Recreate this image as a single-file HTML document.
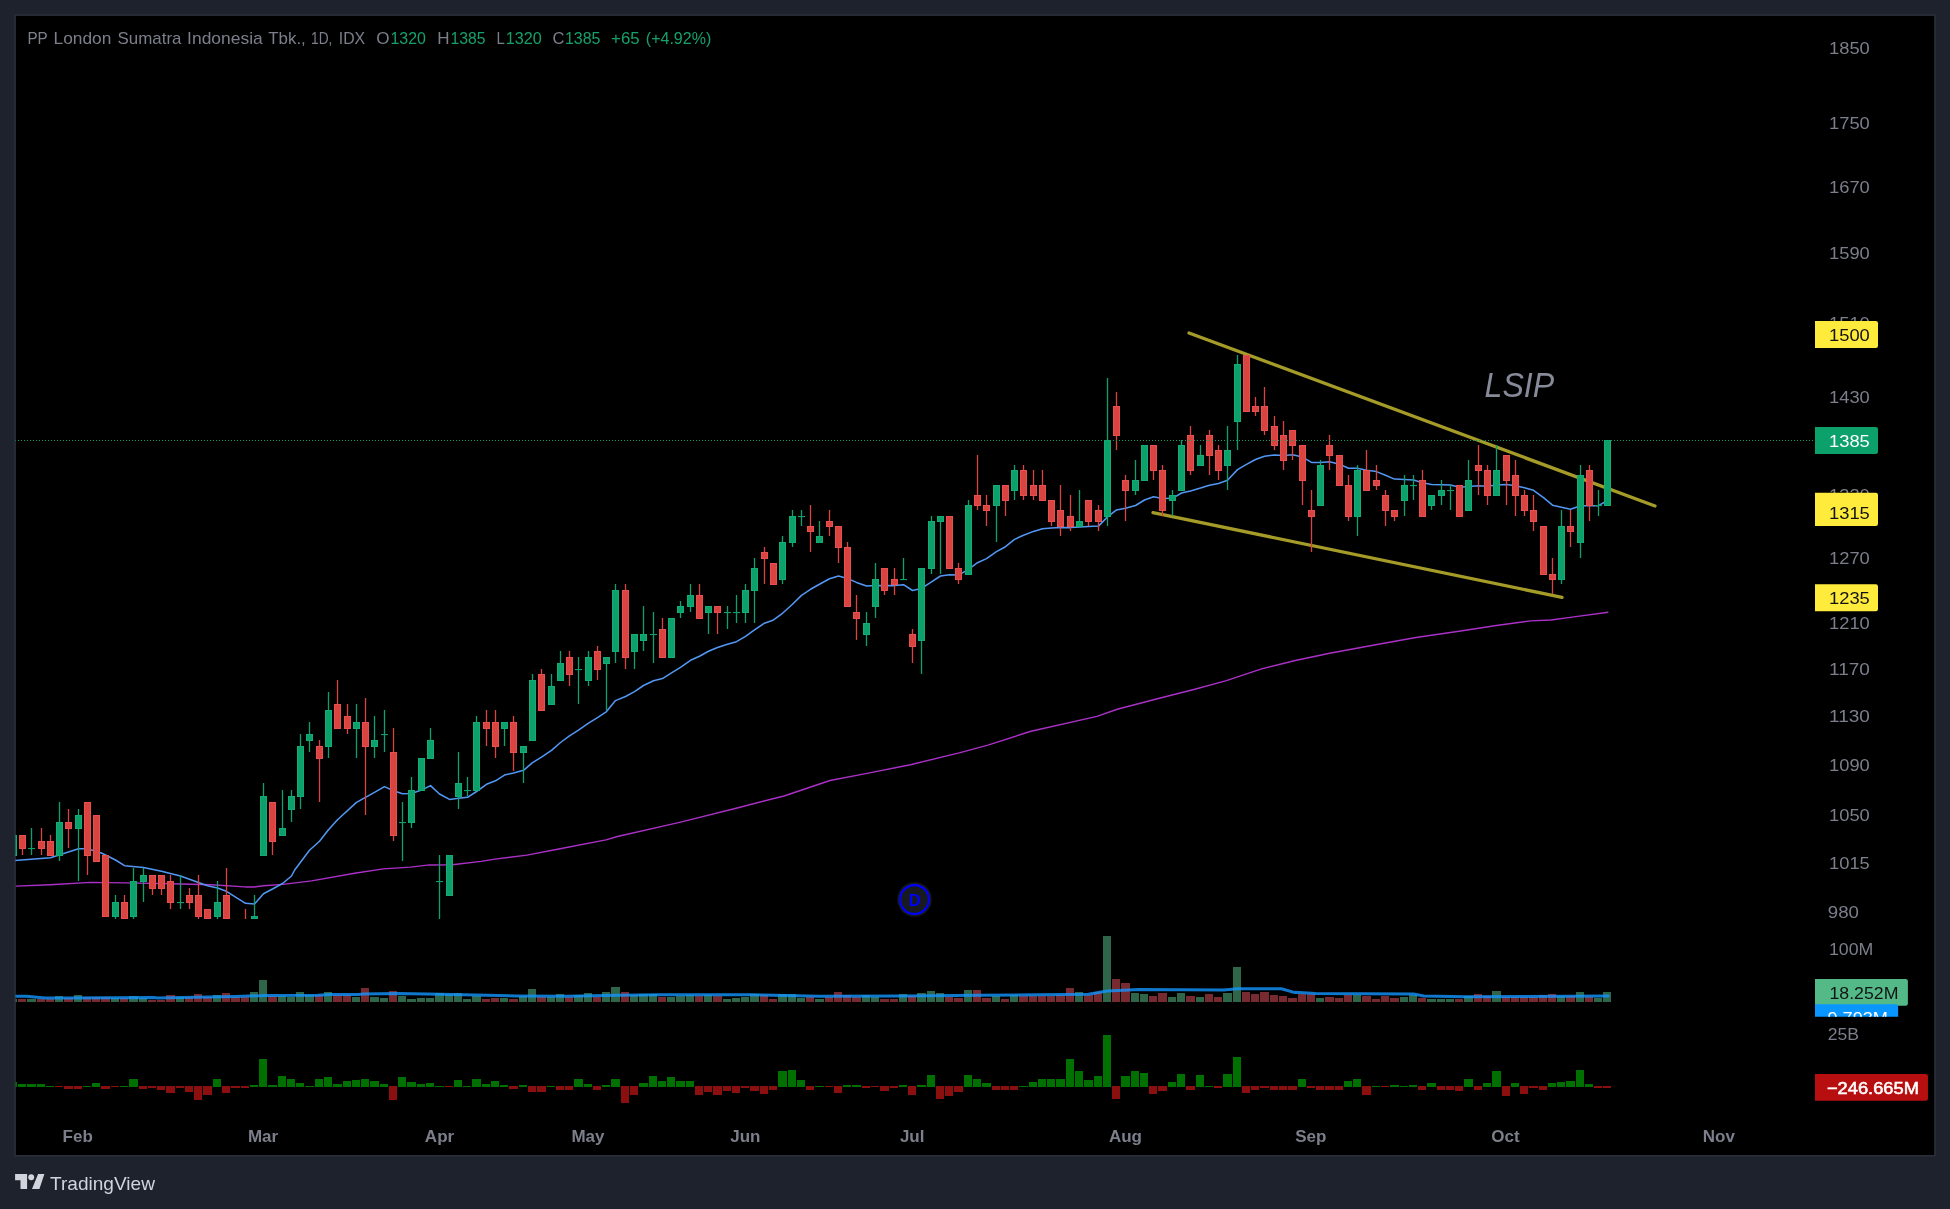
<!DOCTYPE html>
<html><head><meta charset="utf-8"><title>LSIP chart</title>
<style>html,body{margin:0;padding:0;background:#1e222d;}body{width:1950px;height:1209px;overflow:hidden;}svg{display:block;will-change:transform;}text{font-family:"Liberation Sans",sans-serif;}</style>
</head><body>
<svg width="1950" height="1209" viewBox="0 0 1950 1209">
<rect x="0" y="0" width="1950" height="1209" fill="#1e222d"/>
<rect x="15.05" y="15.05" width="1919.95" height="1140.75" fill="#000" stroke="#2a2e39" stroke-width="1.7"/>
<defs><clipPath id="pane"><rect x="15.4" y="15.4" width="1800" height="1140"/></clipPath><clipPath id="volclip"><rect x="1800" y="900" width="150" height="116.8"/></clipPath></defs>
<g clip-path="url(#pane)">
<g shape-rendering="crispEdges">
<rect x="9.0" y="999" width="8.0" height="3" fill="#2f6549"/>
<rect x="18.0" y="999" width="8.0" height="3" fill="#772a30"/>
<rect x="27.0" y="999" width="9.0" height="3" fill="#2f6549"/>
<rect x="37.0" y="999" width="8.0" height="3" fill="#772a30"/>
<rect x="46.0" y="999" width="8.0" height="3" fill="#772a30"/>
<rect x="55.0" y="996" width="8.0" height="6" fill="#2f6549"/>
<rect x="64.0" y="998" width="9.0" height="4" fill="#772a30"/>
<rect x="74.0" y="995" width="8.0" height="7" fill="#2f6549"/>
<rect x="83.0" y="997" width="8.0" height="5" fill="#772a30"/>
<rect x="92.0" y="997" width="8.0" height="5" fill="#772a30"/>
<rect x="101.0" y="997" width="9.0" height="5" fill="#772a30"/>
<rect x="111.0" y="998" width="8.0" height="4" fill="#2f6549"/>
<rect x="120.0" y="998" width="8.0" height="4" fill="#772a30"/>
<rect x="129.0" y="996" width="9.0" height="6" fill="#2f6549"/>
<rect x="139.0" y="998" width="8.0" height="4" fill="#2f6549"/>
<rect x="148.0" y="1000" width="8.0" height="2" fill="#772a30"/>
<rect x="157.0" y="1000" width="8.0" height="2" fill="#772a30"/>
<rect x="166.0" y="995" width="9.0" height="7" fill="#772a30"/>
<rect x="176.0" y="997" width="8.0" height="5" fill="#2f6549"/>
<rect x="185.0" y="997" width="8.0" height="5" fill="#772a30"/>
<rect x="194.0" y="994" width="8.0" height="8" fill="#772a30"/>
<rect x="203.0" y="997" width="9.0" height="5" fill="#772a30"/>
<rect x="213.0" y="995" width="8.0" height="7" fill="#2f6549"/>
<rect x="222.0" y="993" width="8.0" height="9" fill="#772a30"/>
<rect x="231.0" y="997" width="9.0" height="5" fill="#772a30"/>
<rect x="241.0" y="997" width="8.0" height="5" fill="#772a30"/>
<rect x="250.0" y="992" width="8.0" height="10" fill="#2f6549"/>
<rect x="259.0" y="980" width="8.0" height="22" fill="#2f6549"/>
<rect x="268.0" y="996" width="9.0" height="6" fill="#772a30"/>
<rect x="278.0" y="996" width="8.0" height="6" fill="#2f6549"/>
<rect x="287.0" y="997" width="8.0" height="5" fill="#2f6549"/>
<rect x="296.0" y="992" width="8.0" height="10" fill="#2f6549"/>
<rect x="305.0" y="995" width="9.0" height="7" fill="#2f6549"/>
<rect x="315.0" y="995" width="8.0" height="7" fill="#772a30"/>
<rect x="324.0" y="992" width="8.0" height="10" fill="#2f6549"/>
<rect x="333.0" y="995" width="9.0" height="7" fill="#772a30"/>
<rect x="343.0" y="995" width="8.0" height="7" fill="#772a30"/>
<rect x="352.0" y="997" width="8.0" height="5" fill="#2f6549"/>
<rect x="361.0" y="988" width="8.0" height="14" fill="#772a30"/>
<rect x="370.0" y="997" width="9.0" height="5" fill="#2f6549"/>
<rect x="380.0" y="998" width="8.0" height="4" fill="#2f6549"/>
<rect x="389.0" y="991" width="8.0" height="11" fill="#772a30"/>
<rect x="398.0" y="996" width="8.0" height="6" fill="#2f6549"/>
<rect x="407.0" y="999" width="9.0" height="3" fill="#2f6549"/>
<rect x="417.0" y="998" width="8.0" height="4" fill="#2f6549"/>
<rect x="426.0" y="998" width="8.0" height="4" fill="#2f6549"/>
<rect x="435.0" y="993" width="9.0" height="9" fill="#2f6549"/>
<rect x="445.0" y="994" width="8.0" height="8" fill="#2f6549"/>
<rect x="454.0" y="993" width="8.0" height="9" fill="#2f6549"/>
<rect x="463.0" y="999" width="8.0" height="3" fill="#2f6549"/>
<rect x="472.0" y="996" width="9.0" height="6" fill="#2f6549"/>
<rect x="482.0" y="999" width="8.0" height="3" fill="#772a30"/>
<rect x="491.0" y="998" width="8.0" height="4" fill="#772a30"/>
<rect x="500.0" y="998" width="8.0" height="4" fill="#2f6549"/>
<rect x="509.0" y="999" width="9.0" height="3" fill="#772a30"/>
<rect x="519.0" y="996" width="8.0" height="6" fill="#2f6549"/>
<rect x="528.0" y="989" width="8.0" height="13" fill="#2f6549"/>
<rect x="537.0" y="997" width="9.0" height="5" fill="#772a30"/>
<rect x="547.0" y="997" width="8.0" height="5" fill="#2f6549"/>
<rect x="556.0" y="994" width="8.0" height="8" fill="#2f6549"/>
<rect x="565.0" y="997" width="8.0" height="5" fill="#772a30"/>
<rect x="574.0" y="995" width="9.0" height="7" fill="#2f6549"/>
<rect x="584.0" y="993" width="8.0" height="9" fill="#2f6549"/>
<rect x="593.0" y="997" width="8.0" height="5" fill="#772a30"/>
<rect x="602.0" y="992" width="8.0" height="10" fill="#2f6549"/>
<rect x="611.0" y="987" width="9.0" height="15" fill="#2f6549"/>
<rect x="621.0" y="992" width="8.0" height="10" fill="#772a30"/>
<rect x="630.0" y="995" width="8.0" height="7" fill="#2f6549"/>
<rect x="639.0" y="994" width="9.0" height="8" fill="#2f6549"/>
<rect x="649.0" y="994" width="8.0" height="8" fill="#2f6549"/>
<rect x="658.0" y="997" width="8.0" height="5" fill="#772a30"/>
<rect x="667.0" y="997" width="8.0" height="5" fill="#2f6549"/>
<rect x="676.0" y="996" width="9.0" height="6" fill="#2f6549"/>
<rect x="686.0" y="995" width="8.0" height="7" fill="#2f6549"/>
<rect x="695.0" y="996" width="8.0" height="6" fill="#772a30"/>
<rect x="704.0" y="995" width="8.0" height="7" fill="#2f6549"/>
<rect x="713.0" y="996" width="9.0" height="6" fill="#772a30"/>
<rect x="723.0" y="999" width="8.0" height="3" fill="#2f6549"/>
<rect x="732.0" y="998" width="8.0" height="4" fill="#2f6549"/>
<rect x="741.0" y="997" width="8.0" height="5" fill="#2f6549"/>
<rect x="750.0" y="994" width="9.0" height="8" fill="#2f6549"/>
<rect x="760.0" y="995" width="8.0" height="7" fill="#772a30"/>
<rect x="769.0" y="999" width="8.0" height="3" fill="#772a30"/>
<rect x="778.0" y="994" width="9.0" height="8" fill="#2f6549"/>
<rect x="788.0" y="994" width="8.0" height="8" fill="#2f6549"/>
<rect x="797.0" y="998" width="8.0" height="4" fill="#2f6549"/>
<rect x="806.0" y="997" width="8.0" height="5" fill="#772a30"/>
<rect x="815.0" y="999" width="9.0" height="3" fill="#2f6549"/>
<rect x="825.0" y="997" width="8.0" height="5" fill="#772a30"/>
<rect x="834.0" y="992" width="8.0" height="10" fill="#772a30"/>
<rect x="843.0" y="995" width="8.0" height="7" fill="#772a30"/>
<rect x="852.0" y="997" width="9.0" height="5" fill="#772a30"/>
<rect x="862.0" y="995" width="8.0" height="7" fill="#2f6549"/>
<rect x="871.0" y="997" width="8.0" height="5" fill="#2f6549"/>
<rect x="880.0" y="999" width="9.0" height="3" fill="#772a30"/>
<rect x="890.0" y="999" width="8.0" height="3" fill="#772a30"/>
<rect x="899.0" y="994" width="8.0" height="8" fill="#2f6549"/>
<rect x="908.0" y="996" width="8.0" height="6" fill="#772a30"/>
<rect x="917.0" y="993" width="9.0" height="9" fill="#2f6549"/>
<rect x="927.0" y="991" width="8.0" height="11" fill="#2f6549"/>
<rect x="936.0" y="993" width="8.0" height="9" fill="#2f6549"/>
<rect x="945.0" y="997" width="8.0" height="5" fill="#772a30"/>
<rect x="954.0" y="998" width="9.0" height="4" fill="#772a30"/>
<rect x="964.0" y="990" width="8.0" height="12" fill="#2f6549"/>
<rect x="973.0" y="990" width="8.0" height="12" fill="#772a30"/>
<rect x="982.0" y="998" width="9.0" height="4" fill="#772a30"/>
<rect x="992.0" y="996" width="8.0" height="6" fill="#2f6549"/>
<rect x="1001.0" y="999" width="8.0" height="3" fill="#772a30"/>
<rect x="1010.0" y="995" width="8.0" height="7" fill="#2f6549"/>
<rect x="1019.0" y="996" width="9.0" height="6" fill="#772a30"/>
<rect x="1029.0" y="996" width="8.0" height="6" fill="#772a30"/>
<rect x="1038.0" y="996" width="8.0" height="6" fill="#772a30"/>
<rect x="1047.0" y="996" width="8.0" height="6" fill="#772a30"/>
<rect x="1056.0" y="995" width="9.0" height="7" fill="#772a30"/>
<rect x="1066.0" y="988" width="8.0" height="14" fill="#772a30"/>
<rect x="1075.0" y="992" width="8.0" height="10" fill="#2f6549"/>
<rect x="1084.0" y="995" width="9.0" height="7" fill="#772a30"/>
<rect x="1094.0" y="992" width="8.0" height="10" fill="#772a30"/>
<rect x="1103.0" y="936" width="8.0" height="66" fill="#2f6549"/>
<rect x="1112.0" y="979" width="8.0" height="23" fill="#772a30"/>
<rect x="1121.0" y="983" width="9.0" height="19" fill="#772a30"/>
<rect x="1131.0" y="993" width="8.0" height="9" fill="#2f6549"/>
<rect x="1140.0" y="994" width="8.0" height="8" fill="#2f6549"/>
<rect x="1149.0" y="996" width="8.0" height="6" fill="#772a30"/>
<rect x="1158.0" y="993" width="9.0" height="9" fill="#772a30"/>
<rect x="1168.0" y="997" width="8.0" height="5" fill="#2f6549"/>
<rect x="1177.0" y="993" width="8.0" height="9" fill="#2f6549"/>
<rect x="1186.0" y="996" width="9.0" height="6" fill="#772a30"/>
<rect x="1196.0" y="997" width="8.0" height="5" fill="#2f6549"/>
<rect x="1205.0" y="994" width="8.0" height="8" fill="#772a30"/>
<rect x="1214.0" y="997" width="8.0" height="5" fill="#772a30"/>
<rect x="1223.0" y="993" width="9.0" height="9" fill="#2f6549"/>
<rect x="1233.0" y="967" width="8.0" height="35" fill="#2f6549"/>
<rect x="1242.0" y="992" width="8.0" height="10" fill="#772a30"/>
<rect x="1251.0" y="994" width="8.0" height="8" fill="#772a30"/>
<rect x="1260.0" y="992" width="9.0" height="10" fill="#772a30"/>
<rect x="1270.0" y="995" width="8.0" height="7" fill="#772a30"/>
<rect x="1279.0" y="996" width="8.0" height="6" fill="#772a30"/>
<rect x="1288.0" y="998" width="9.0" height="4" fill="#772a30"/>
<rect x="1298.0" y="994" width="8.0" height="8" fill="#772a30"/>
<rect x="1307.0" y="994" width="8.0" height="8" fill="#772a30"/>
<rect x="1316.0" y="998" width="8.0" height="4" fill="#2f6549"/>
<rect x="1325.0" y="997" width="9.0" height="5" fill="#772a30"/>
<rect x="1335.0" y="998" width="8.0" height="4" fill="#772a30"/>
<rect x="1344.0" y="995" width="8.0" height="7" fill="#772a30"/>
<rect x="1353.0" y="995" width="8.0" height="7" fill="#2f6549"/>
<rect x="1362.0" y="996" width="9.0" height="6" fill="#772a30"/>
<rect x="1372.0" y="999" width="8.0" height="3" fill="#772a30"/>
<rect x="1381.0" y="996" width="8.0" height="6" fill="#772a30"/>
<rect x="1390.0" y="998" width="9.0" height="4" fill="#772a30"/>
<rect x="1400.0" y="997" width="8.0" height="5" fill="#2f6549"/>
<rect x="1409.0" y="995" width="8.0" height="7" fill="#2f6549"/>
<rect x="1418.0" y="998" width="8.0" height="4" fill="#772a30"/>
<rect x="1427.0" y="999" width="9.0" height="3" fill="#2f6549"/>
<rect x="1437.0" y="999" width="8.0" height="3" fill="#2f6549"/>
<rect x="1446.0" y="999" width="8.0" height="3" fill="#2f6549"/>
<rect x="1455.0" y="999" width="8.0" height="3" fill="#772a30"/>
<rect x="1464.0" y="996" width="9.0" height="6" fill="#2f6549"/>
<rect x="1474.0" y="994" width="8.0" height="8" fill="#772a30"/>
<rect x="1483.0" y="996" width="8.0" height="6" fill="#772a30"/>
<rect x="1492.0" y="991" width="9.0" height="11" fill="#2f6549"/>
<rect x="1502.0" y="997" width="8.0" height="5" fill="#772a30"/>
<rect x="1511.0" y="997" width="8.0" height="5" fill="#772a30"/>
<rect x="1520.0" y="997" width="8.0" height="5" fill="#772a30"/>
<rect x="1529.0" y="997" width="9.0" height="5" fill="#772a30"/>
<rect x="1539.0" y="995" width="8.0" height="7" fill="#772a30"/>
<rect x="1548.0" y="994" width="8.0" height="8" fill="#772a30"/>
<rect x="1557.0" y="996" width="8.0" height="6" fill="#2f6549"/>
<rect x="1566.0" y="996" width="9.0" height="6" fill="#772a30"/>
<rect x="1576.0" y="992" width="8.0" height="10" fill="#2f6549"/>
<rect x="1585.0" y="997" width="8.0" height="5" fill="#772a30"/>
<rect x="1594.0" y="998" width="8.0" height="4" fill="#2f6549"/>
<rect x="1603.0" y="992" width="8.0" height="10" fill="#2f6549"/>
</g>
<polyline points="15.1,996.3 26.4,996.3 44.9,998.0 67.4,998.0 153.6,997.6 157.7,998.0 194.6,997.2 235.6,996.5 266.4,995.5 317.7,995.3 330.0,994.5 358.7,994.5 362.8,993.9 397.7,993.5 440.0,994.3 516.2,996.0 566.9,996.3 617.7,995.2 660.0,994.8 751.5,994.8 819.2,996.3 903.9,996.0 980.0,995.2 1088.5,994.3 1107.1,990.9 1139.2,989.6 1223.9,990.1 1237.4,988.7 1281.4,988.7 1294.9,992.6 1295.1,992.3 1315.4,993.5 1413.5,994.0 1423.7,996.0 1466.0,996.8 1608.2,996.0" fill="none" stroke="#1396ff" stroke-opacity="0.8" stroke-width="3" stroke-linejoin="round" stroke-linecap="round"/>
<rect x="9.0" y="1082" width="8.0" height="5" fill="#007000"/>
<rect x="18.0" y="1084" width="8.0" height="3" fill="#007000"/>
<rect x="27.0" y="1084" width="9.0" height="3" fill="#007000"/>
<rect x="37.0" y="1084" width="8.0" height="3" fill="#007000"/>
<rect x="46.0" y="1086" width="8.0" height="1" fill="#007000"/>
<rect x="55.0" y="1086" width="8.0" height="1" fill="#8c0f0f"/>
<rect x="64.0" y="1086" width="9.0" height="3" fill="#8c0f0f"/>
<rect x="74.0" y="1086" width="8.0" height="3" fill="#8c0f0f"/>
<rect x="83.0" y="1086" width="8.0" height="1" fill="#007000"/>
<rect x="92.0" y="1083" width="8.0" height="4" fill="#007000"/>
<rect x="101.0" y="1086" width="9.0" height="3" fill="#8c0f0f"/>
<rect x="111.0" y="1086" width="8.0" height="1" fill="#8c0f0f"/>
<rect x="120.0" y="1086" width="8.0" height="1" fill="#007000"/>
<rect x="129.0" y="1079" width="9.0" height="8" fill="#007000"/>
<rect x="139.0" y="1086" width="8.0" height="3" fill="#8c0f0f"/>
<rect x="148.0" y="1086" width="8.0" height="2" fill="#8c0f0f"/>
<rect x="157.0" y="1086" width="8.0" height="4" fill="#8c0f0f"/>
<rect x="166.0" y="1086" width="9.0" height="7" fill="#8c0f0f"/>
<rect x="176.0" y="1086" width="8.0" height="2" fill="#8c0f0f"/>
<rect x="185.0" y="1086" width="8.0" height="6" fill="#8c0f0f"/>
<rect x="194.0" y="1086" width="8.0" height="14" fill="#8c0f0f"/>
<rect x="203.0" y="1086" width="9.0" height="9" fill="#8c0f0f"/>
<rect x="213.0" y="1079" width="8.0" height="8" fill="#007000"/>
<rect x="222.0" y="1086" width="8.0" height="7" fill="#8c0f0f"/>
<rect x="231.0" y="1086" width="9.0" height="2" fill="#8c0f0f"/>
<rect x="241.0" y="1086" width="8.0" height="2" fill="#8c0f0f"/>
<rect x="250.0" y="1085" width="8.0" height="2" fill="#007000"/>
<rect x="259.0" y="1059" width="8.0" height="28" fill="#007000"/>
<rect x="268.0" y="1085" width="9.0" height="2" fill="#007000"/>
<rect x="278.0" y="1076" width="8.0" height="11" fill="#007000"/>
<rect x="287.0" y="1079" width="8.0" height="8" fill="#007000"/>
<rect x="296.0" y="1083" width="8.0" height="4" fill="#007000"/>
<rect x="305.0" y="1086" width="9.0" height="1" fill="#007000"/>
<rect x="315.0" y="1079" width="8.0" height="8" fill="#007000"/>
<rect x="324.0" y="1077" width="8.0" height="10" fill="#007000"/>
<rect x="333.0" y="1084" width="9.0" height="3" fill="#007000"/>
<rect x="343.0" y="1081" width="8.0" height="6" fill="#007000"/>
<rect x="352.0" y="1080" width="8.0" height="7" fill="#007000"/>
<rect x="361.0" y="1079" width="8.0" height="8" fill="#007000"/>
<rect x="370.0" y="1081" width="9.0" height="6" fill="#007000"/>
<rect x="380.0" y="1084" width="8.0" height="3" fill="#007000"/>
<rect x="389.0" y="1086" width="8.0" height="14" fill="#8c0f0f"/>
<rect x="398.0" y="1077" width="8.0" height="10" fill="#007000"/>
<rect x="407.0" y="1082" width="9.0" height="5" fill="#007000"/>
<rect x="417.0" y="1084" width="8.0" height="3" fill="#007000"/>
<rect x="426.0" y="1083" width="8.0" height="4" fill="#007000"/>
<rect x="435.0" y="1086" width="9.0" height="1" fill="#007000"/>
<rect x="445.0" y="1086" width="8.0" height="1" fill="#8c0f0f"/>
<rect x="454.0" y="1080" width="8.0" height="7" fill="#007000"/>
<rect x="463.0" y="1086" width="8.0" height="1" fill="#007000"/>
<rect x="472.0" y="1079" width="9.0" height="8" fill="#007000"/>
<rect x="482.0" y="1084" width="8.0" height="3" fill="#007000"/>
<rect x="491.0" y="1081" width="8.0" height="6" fill="#007000"/>
<rect x="500.0" y="1085" width="8.0" height="2" fill="#007000"/>
<rect x="509.0" y="1086" width="9.0" height="3" fill="#8c0f0f"/>
<rect x="519.0" y="1085" width="8.0" height="2" fill="#007000"/>
<rect x="528.0" y="1086" width="8.0" height="6" fill="#8c0f0f"/>
<rect x="537.0" y="1086" width="9.0" height="6" fill="#8c0f0f"/>
<rect x="547.0" y="1086" width="8.0" height="1" fill="#007000"/>
<rect x="556.0" y="1086" width="8.0" height="4" fill="#8c0f0f"/>
<rect x="565.0" y="1086" width="8.0" height="4" fill="#8c0f0f"/>
<rect x="574.0" y="1079" width="9.0" height="8" fill="#007000"/>
<rect x="584.0" y="1084" width="8.0" height="3" fill="#007000"/>
<rect x="593.0" y="1086" width="8.0" height="4" fill="#8c0f0f"/>
<rect x="602.0" y="1085" width="8.0" height="2" fill="#007000"/>
<rect x="611.0" y="1079" width="9.0" height="8" fill="#007000"/>
<rect x="621.0" y="1086" width="8.0" height="17" fill="#8c0f0f"/>
<rect x="630.0" y="1086" width="8.0" height="9" fill="#8c0f0f"/>
<rect x="639.0" y="1083" width="9.0" height="4" fill="#007000"/>
<rect x="649.0" y="1076" width="8.0" height="11" fill="#007000"/>
<rect x="658.0" y="1081" width="8.0" height="6" fill="#007000"/>
<rect x="667.0" y="1077" width="8.0" height="10" fill="#007000"/>
<rect x="676.0" y="1081" width="9.0" height="6" fill="#007000"/>
<rect x="686.0" y="1081" width="8.0" height="6" fill="#007000"/>
<rect x="695.0" y="1086" width="8.0" height="9" fill="#8c0f0f"/>
<rect x="704.0" y="1086" width="8.0" height="6" fill="#8c0f0f"/>
<rect x="713.0" y="1086" width="9.0" height="9" fill="#8c0f0f"/>
<rect x="723.0" y="1086" width="8.0" height="5" fill="#8c0f0f"/>
<rect x="732.0" y="1086" width="8.0" height="7" fill="#8c0f0f"/>
<rect x="741.0" y="1086" width="8.0" height="2" fill="#8c0f0f"/>
<rect x="750.0" y="1086" width="9.0" height="5" fill="#8c0f0f"/>
<rect x="760.0" y="1086" width="8.0" height="8" fill="#8c0f0f"/>
<rect x="769.0" y="1086" width="8.0" height="4" fill="#8c0f0f"/>
<rect x="778.0" y="1071" width="9.0" height="16" fill="#007000"/>
<rect x="788.0" y="1070" width="8.0" height="17" fill="#007000"/>
<rect x="797.0" y="1080" width="8.0" height="7" fill="#007000"/>
<rect x="806.0" y="1086" width="8.0" height="4" fill="#8c0f0f"/>
<rect x="815.0" y="1086" width="9.0" height="1" fill="#007000"/>
<rect x="825.0" y="1086" width="8.0" height="1" fill="#8c0f0f"/>
<rect x="834.0" y="1086" width="8.0" height="7" fill="#8c0f0f"/>
<rect x="843.0" y="1085" width="8.0" height="2" fill="#007000"/>
<rect x="852.0" y="1085" width="9.0" height="2" fill="#007000"/>
<rect x="862.0" y="1086" width="8.0" height="2" fill="#8c0f0f"/>
<rect x="871.0" y="1086" width="8.0" height="1" fill="#8c0f0f"/>
<rect x="880.0" y="1086" width="9.0" height="5" fill="#8c0f0f"/>
<rect x="890.0" y="1086" width="8.0" height="2" fill="#8c0f0f"/>
<rect x="899.0" y="1085" width="8.0" height="2" fill="#007000"/>
<rect x="908.0" y="1086" width="8.0" height="9" fill="#8c0f0f"/>
<rect x="917.0" y="1085" width="9.0" height="2" fill="#007000"/>
<rect x="927.0" y="1075" width="8.0" height="12" fill="#007000"/>
<rect x="936.0" y="1086" width="8.0" height="13" fill="#8c0f0f"/>
<rect x="945.0" y="1086" width="8.0" height="10" fill="#8c0f0f"/>
<rect x="954.0" y="1086" width="9.0" height="6" fill="#8c0f0f"/>
<rect x="964.0" y="1075" width="8.0" height="12" fill="#007000"/>
<rect x="973.0" y="1079" width="8.0" height="8" fill="#007000"/>
<rect x="982.0" y="1083" width="9.0" height="4" fill="#007000"/>
<rect x="992.0" y="1086" width="8.0" height="4" fill="#8c0f0f"/>
<rect x="1001.0" y="1086" width="8.0" height="4" fill="#8c0f0f"/>
<rect x="1010.0" y="1086" width="8.0" height="4" fill="#8c0f0f"/>
<rect x="1019.0" y="1086" width="9.0" height="1" fill="#007000"/>
<rect x="1029.0" y="1082" width="8.0" height="5" fill="#007000"/>
<rect x="1038.0" y="1079" width="8.0" height="8" fill="#007000"/>
<rect x="1047.0" y="1079" width="8.0" height="8" fill="#007000"/>
<rect x="1056.0" y="1079" width="9.0" height="8" fill="#007000"/>
<rect x="1066.0" y="1059" width="8.0" height="28" fill="#007000"/>
<rect x="1075.0" y="1071" width="8.0" height="16" fill="#007000"/>
<rect x="1084.0" y="1080" width="9.0" height="7" fill="#007000"/>
<rect x="1094.0" y="1076" width="8.0" height="11" fill="#007000"/>
<rect x="1103.0" y="1035" width="8.0" height="52" fill="#007000"/>
<rect x="1112.0" y="1086" width="8.0" height="13" fill="#8c0f0f"/>
<rect x="1121.0" y="1076" width="9.0" height="11" fill="#007000"/>
<rect x="1131.0" y="1071" width="8.0" height="16" fill="#007000"/>
<rect x="1140.0" y="1073" width="8.0" height="14" fill="#007000"/>
<rect x="1149.0" y="1086" width="8.0" height="8" fill="#8c0f0f"/>
<rect x="1158.0" y="1086" width="9.0" height="5" fill="#8c0f0f"/>
<rect x="1168.0" y="1082" width="8.0" height="5" fill="#007000"/>
<rect x="1177.0" y="1074" width="8.0" height="13" fill="#007000"/>
<rect x="1186.0" y="1086" width="9.0" height="4" fill="#8c0f0f"/>
<rect x="1196.0" y="1075" width="8.0" height="12" fill="#007000"/>
<rect x="1205.0" y="1086" width="8.0" height="1" fill="#007000"/>
<rect x="1214.0" y="1086" width="8.0" height="2" fill="#8c0f0f"/>
<rect x="1223.0" y="1074" width="9.0" height="13" fill="#007000"/>
<rect x="1233.0" y="1057" width="8.0" height="30" fill="#007000"/>
<rect x="1242.0" y="1086" width="8.0" height="7" fill="#8c0f0f"/>
<rect x="1251.0" y="1086" width="8.0" height="4" fill="#8c0f0f"/>
<rect x="1260.0" y="1086" width="9.0" height="2" fill="#8c0f0f"/>
<rect x="1270.0" y="1086" width="8.0" height="4" fill="#8c0f0f"/>
<rect x="1279.0" y="1086" width="8.0" height="4" fill="#8c0f0f"/>
<rect x="1288.0" y="1086" width="9.0" height="4" fill="#8c0f0f"/>
<rect x="1298.0" y="1079" width="8.0" height="8" fill="#007000"/>
<rect x="1307.0" y="1086" width="8.0" height="2" fill="#8c0f0f"/>
<rect x="1316.0" y="1086" width="8.0" height="4" fill="#8c0f0f"/>
<rect x="1325.0" y="1086" width="9.0" height="4" fill="#8c0f0f"/>
<rect x="1335.0" y="1086" width="8.0" height="4" fill="#8c0f0f"/>
<rect x="1344.0" y="1081" width="8.0" height="6" fill="#007000"/>
<rect x="1353.0" y="1079" width="8.0" height="8" fill="#007000"/>
<rect x="1362.0" y="1086" width="9.0" height="9" fill="#8c0f0f"/>
<rect x="1372.0" y="1086" width="8.0" height="1" fill="#007000"/>
<rect x="1381.0" y="1086" width="8.0" height="1" fill="#8c0f0f"/>
<rect x="1390.0" y="1085" width="9.0" height="2" fill="#007000"/>
<rect x="1400.0" y="1086" width="8.0" height="1" fill="#007000"/>
<rect x="1409.0" y="1085" width="8.0" height="2" fill="#007000"/>
<rect x="1418.0" y="1086" width="8.0" height="4" fill="#8c0f0f"/>
<rect x="1427.0" y="1083" width="9.0" height="4" fill="#007000"/>
<rect x="1437.0" y="1086" width="8.0" height="4" fill="#8c0f0f"/>
<rect x="1446.0" y="1086" width="8.0" height="4" fill="#8c0f0f"/>
<rect x="1455.0" y="1086" width="8.0" height="5" fill="#8c0f0f"/>
<rect x="1464.0" y="1079" width="9.0" height="8" fill="#007000"/>
<rect x="1474.0" y="1086" width="8.0" height="4" fill="#8c0f0f"/>
<rect x="1483.0" y="1083" width="8.0" height="4" fill="#007000"/>
<rect x="1492.0" y="1071" width="9.0" height="16" fill="#007000"/>
<rect x="1502.0" y="1086" width="8.0" height="10" fill="#8c0f0f"/>
<rect x="1511.0" y="1083" width="8.0" height="4" fill="#007000"/>
<rect x="1520.0" y="1086" width="8.0" height="8" fill="#8c0f0f"/>
<rect x="1529.0" y="1086" width="9.0" height="2" fill="#8c0f0f"/>
<rect x="1539.0" y="1086" width="8.0" height="4" fill="#8c0f0f"/>
<rect x="1548.0" y="1083" width="8.0" height="4" fill="#007000"/>
<rect x="1557.0" y="1082" width="8.0" height="5" fill="#007000"/>
<rect x="1566.0" y="1081" width="9.0" height="6" fill="#007000"/>
<rect x="1576.0" y="1070" width="8.0" height="17" fill="#007000"/>
<rect x="1585.0" y="1084" width="8.0" height="3" fill="#007000"/>
<rect x="1594.0" y="1086" width="8.0" height="2" fill="#8c0f0f"/>
<rect x="1603.0" y="1086" width="8.0" height="2" fill="#8c0f0f"/>
<polyline points="15.7,886.1 50.2,884.7 90.4,882.4 124.9,882.9 170.8,883.8 211.0,884.7 245.2,886.9 254.1,887.0 263.7,885.7 282.8,884.4 311.6,880.9 354.6,873.2 383.3,868.9 410.6,867.1 429.3,864.9 452.3,864.8 481.0,861.4 495.1,859.1 526.9,855.1 560.0,848.7 606.0,839.9 617.4,836.5 680.6,822.1 738.1,807.7 784.0,796.0 830.0,780.5 864.4,773.9 910.4,764.7 959.2,752.9 987.9,745.1 1031.0,731.3 1097.0,716.4 1117.2,709.3 1157.4,698.7 1194.8,689.2 1226.4,680.6 1260.8,669.1 1295.3,660.5 1329.7,653.3 1375.7,644.7 1415.9,637.5 1459.0,631.2 1496.3,625.5 1530.8,620.9 1550.9,620.0 1573.9,616.9 1608.3,612.3" fill="none" stroke="#ab30c8" stroke-width="1.45" stroke-linejoin="round"/>
<polyline points="13.5,860.7 50.5,857.7 68.5,852.0 78.5,848.7 87.5,848.7 102.0,853.3 115.5,860.0 124.5,865.7 143.5,867.6 161.5,871.3 180.5,876.0 189.5,879.3 207.5,885.7 217.5,888.0 226.5,891.3 245.5,903.3 254.5,904.0 263.5,893.7 272.5,889.0 282.5,883.5 291.5,876.0 294.7,870.0 309.5,850.3 319.5,841.2 328.5,829.7 337.5,819.7 356.5,802.4 365.5,797.4 374.5,792.4 384.5,786.6 393.5,790.8 402.5,793.8 411.5,793.4 421.5,790.1 430.5,785.6 439.5,794.0 449.5,799.4 458.5,798.3 467.5,797.3 476.5,791.5 486.5,784.3 495.5,780.8 504.5,775.1 513.5,773.0 523.5,770.3 532.5,762.7 541.5,757.2 551.5,750.3 560.5,742.5 569.5,735.9 578.5,730.2 588.5,723.2 597.5,717.7 606.5,711.6 615.5,700.6 625.5,696.5 634.5,691.6 643.5,685.5 653.5,680.7 662.5,678.6 671.5,672.8 680.5,667.3 690.5,660.3 699.5,656.3 708.5,651.3 717.5,647.5 727.5,644.2 736.5,641.7 745.5,636.4 754.5,629.8 764.5,623.2 773.5,619.9 782.5,613.3 792.5,604.2 801.5,595.4 810.5,589.3 819.5,584.3 829.5,578.8 838.5,576.0 847.5,578.5 856.5,582.4 866.5,586.1 875.5,585.6 884.5,585.6 894.5,585.6 903.5,584.7 912.5,590.5 921.5,588.4 931.5,581.8 940.5,576.0 949.5,574.8 958.5,575.1 968.5,569.3 977.5,562.7 986.5,558.6 996.5,551.6 1005.5,546.7 1014.5,539.4 1023.5,535.3 1033.5,531.4 1042.5,528.8 1051.5,528.0 1060.5,527.6 1070.5,527.6 1079.5,527.0 1088.5,526.5 1098.5,526.1 1107.5,516.9 1116.5,509.9 1125.5,508.2 1135.5,505.5 1144.5,500.0 1153.5,496.8 1162.5,498.5 1172.5,498.3 1181.5,493.0 1190.5,490.9 1200.5,488.1 1209.5,485.3 1218.5,483.6 1227.5,480.3 1237.5,469.6 1246.5,464.4 1255.5,459.5 1264.5,456.3 1274.5,455.0 1283.5,455.5 1292.5,454.8 1302.5,457.1 1311.5,462.4 1320.5,462.5 1329.5,461.7 1339.5,464.2 1348.5,468.2 1357.5,468.3 1366.5,470.3 1376.5,471.6 1385.5,475.3 1394.5,479.1 1404.5,479.6 1413.5,480.1 1422.5,482.7 1431.5,484.4 1441.5,484.7 1450.5,485.0 1459.5,487.3 1468.5,486.5 1478.5,485.7 1487.5,486.2 1496.5,485.0 1506.5,484.5 1515.5,485.7 1524.5,487.8 1533.5,490.3 1543.5,497.7 1552.5,505.2 1561.5,507.2 1570.5,509.3 1580.5,505.7 1589.5,505.7 1598.5,505.7 1607.5,500.5" fill="none" stroke="#5297f3" stroke-width="1.55" stroke-linejoin="round"/>
<line x1="1189" y1="333" x2="1655" y2="506" stroke="#a59b28" stroke-width="3.3" stroke-linecap="round"/>
<line x1="1153" y1="512.6" x2="1562" y2="597.4" stroke="#a59b28" stroke-width="3.3" stroke-linecap="round"/>
<rect x="12.85" y="835.00" width="1.3" height="21.00" fill="#0ca06a"/>
<rect x="10.50" y="835.50" width="6.0" height="20.00" fill="#0ca06a" stroke="#14ac76" stroke-width="1"/>
<rect x="21.85" y="835.00" width="1.3" height="20.00" fill="#d94441"/>
<rect x="19.50" y="835.50" width="6.0" height="13.00" fill="#d94441" stroke="#ea4e4e" stroke-width="1"/>
<rect x="30.85" y="828.00" width="1.3" height="27.00" fill="#0ca06a"/>
<rect x="28.00" y="848" width="7.0" height="1.1" fill="#0ca06a"/>
<rect x="40.85" y="828.00" width="1.3" height="27.00" fill="#d94441"/>
<rect x="38.50" y="841.50" width="6.0" height="7.00" fill="#d94441" stroke="#ea4e4e" stroke-width="1"/>
<rect x="49.85" y="835.00" width="1.3" height="21.00" fill="#d94441"/>
<rect x="47.50" y="841.50" width="6.0" height="14.00" fill="#d94441" stroke="#ea4e4e" stroke-width="1"/>
<rect x="58.85" y="802.00" width="1.3" height="59.00" fill="#0ca06a"/>
<rect x="56.50" y="822.50" width="6.0" height="33.00" fill="#0ca06a" stroke="#14ac76" stroke-width="1"/>
<rect x="67.85" y="809.00" width="1.3" height="39.00" fill="#d94441"/>
<rect x="65.50" y="822.50" width="6.0" height="6.00" fill="#d94441" stroke="#ea4e4e" stroke-width="1"/>
<rect x="77.85" y="809.00" width="1.3" height="72.00" fill="#0ca06a"/>
<rect x="75.50" y="815.50" width="6.0" height="13.00" fill="#0ca06a" stroke="#14ac76" stroke-width="1"/>
<rect x="86.85" y="802.00" width="1.3" height="73.00" fill="#d94441"/>
<rect x="84.50" y="802.50" width="6.0" height="53.00" fill="#d94441" stroke="#ea4e4e" stroke-width="1"/>
<rect x="95.85" y="815.00" width="1.3" height="47.00" fill="#d94441"/>
<rect x="93.50" y="815.50" width="6.0" height="46.00" fill="#d94441" stroke="#ea4e4e" stroke-width="1"/>
<rect x="104.85" y="855.00" width="1.3" height="62.00" fill="#d94441"/>
<rect x="102.50" y="855.50" width="6.0" height="61.00" fill="#d94441" stroke="#ea4e4e" stroke-width="1"/>
<rect x="114.85" y="895.00" width="1.3" height="24.00" fill="#0ca06a"/>
<rect x="112.50" y="902.50" width="6.0" height="14.00" fill="#0ca06a" stroke="#14ac76" stroke-width="1"/>
<rect x="123.85" y="895.00" width="1.3" height="24.00" fill="#d94441"/>
<rect x="121.50" y="902.50" width="6.0" height="16.00" fill="#d94441" stroke="#ea4e4e" stroke-width="1"/>
<rect x="132.85" y="868.00" width="1.3" height="51.00" fill="#0ca06a"/>
<rect x="130.50" y="881.50" width="6.0" height="35.00" fill="#0ca06a" stroke="#14ac76" stroke-width="1"/>
<rect x="142.85" y="868.00" width="1.3" height="34.00" fill="#0ca06a"/>
<rect x="140.50" y="875.50" width="6.0" height="6.00" fill="#0ca06a" stroke="#14ac76" stroke-width="1"/>
<rect x="151.85" y="875.00" width="1.3" height="20.00" fill="#d94441"/>
<rect x="149.50" y="875.50" width="6.0" height="13.00" fill="#d94441" stroke="#ea4e4e" stroke-width="1"/>
<rect x="160.85" y="875.00" width="1.3" height="20.00" fill="#d94441"/>
<rect x="158.50" y="875.50" width="6.0" height="13.00" fill="#d94441" stroke="#ea4e4e" stroke-width="1"/>
<rect x="169.85" y="875.00" width="1.3" height="34.00" fill="#d94441"/>
<rect x="167.50" y="881.50" width="6.0" height="21.00" fill="#d94441" stroke="#ea4e4e" stroke-width="1"/>
<rect x="179.85" y="875.00" width="1.3" height="34.00" fill="#0ca06a"/>
<rect x="177.00" y="902" width="7.0" height="1.1" fill="#0ca06a"/>
<rect x="188.85" y="888.00" width="1.3" height="21.00" fill="#d94441"/>
<rect x="186.50" y="895.50" width="6.0" height="7.00" fill="#d94441" stroke="#ea4e4e" stroke-width="1"/>
<rect x="197.85" y="875.00" width="1.3" height="44.00" fill="#d94441"/>
<rect x="195.50" y="895.50" width="6.0" height="21.00" fill="#d94441" stroke="#ea4e4e" stroke-width="1"/>
<rect x="206.85" y="909.00" width="1.3" height="10.00" fill="#d94441"/>
<rect x="204.50" y="909.50" width="6.0" height="9.00" fill="#d94441" stroke="#ea4e4e" stroke-width="1"/>
<rect x="216.85" y="881.00" width="1.3" height="38.00" fill="#0ca06a"/>
<rect x="214.50" y="902.50" width="6.0" height="14.00" fill="#0ca06a" stroke="#14ac76" stroke-width="1"/>
<rect x="225.85" y="868.00" width="1.3" height="51.00" fill="#d94441"/>
<rect x="223.50" y="895.50" width="6.0" height="23.00" fill="#d94441" stroke="#ea4e4e" stroke-width="1"/>
<rect x="244.85" y="909.00" width="1.3" height="10.00" fill="#d94441"/>
<rect x="253.85" y="895.00" width="1.3" height="24.00" fill="#0ca06a"/>
<rect x="251.50" y="916.50" width="6.0" height="2.00" fill="#0ca06a" stroke="#14ac76" stroke-width="1"/>
<rect x="262.85" y="783.00" width="1.3" height="73.00" fill="#0ca06a"/>
<rect x="260.50" y="796.50" width="6.0" height="59.00" fill="#0ca06a" stroke="#14ac76" stroke-width="1"/>
<rect x="271.85" y="802.00" width="1.3" height="53.00" fill="#d94441"/>
<rect x="269.50" y="802.50" width="6.0" height="39.00" fill="#d94441" stroke="#ea4e4e" stroke-width="1"/>
<rect x="281.85" y="790.00" width="1.3" height="46.00" fill="#0ca06a"/>
<rect x="279.50" y="828.50" width="6.0" height="7.00" fill="#0ca06a" stroke="#14ac76" stroke-width="1"/>
<rect x="290.85" y="790.00" width="1.3" height="32.00" fill="#0ca06a"/>
<rect x="288.50" y="796.50" width="6.0" height="13.00" fill="#0ca06a" stroke="#14ac76" stroke-width="1"/>
<rect x="299.85" y="734.00" width="1.3" height="75.00" fill="#0ca06a"/>
<rect x="297.50" y="746.50" width="6.0" height="50.00" fill="#0ca06a" stroke="#14ac76" stroke-width="1"/>
<rect x="308.85" y="722.00" width="1.3" height="30.00" fill="#0ca06a"/>
<rect x="306.50" y="734.50" width="6.0" height="6.00" fill="#0ca06a" stroke="#14ac76" stroke-width="1"/>
<rect x="318.85" y="740.00" width="1.3" height="62.00" fill="#d94441"/>
<rect x="316.50" y="746.50" width="6.0" height="12.00" fill="#d94441" stroke="#ea4e4e" stroke-width="1"/>
<rect x="327.85" y="692.00" width="1.3" height="66.00" fill="#0ca06a"/>
<rect x="325.50" y="710.50" width="6.0" height="36.00" fill="#0ca06a" stroke="#14ac76" stroke-width="1"/>
<rect x="336.85" y="680.00" width="1.3" height="49.00" fill="#d94441"/>
<rect x="334.50" y="704.50" width="6.0" height="24.00" fill="#d94441" stroke="#ea4e4e" stroke-width="1"/>
<rect x="346.85" y="704.00" width="1.3" height="30.00" fill="#d94441"/>
<rect x="344.50" y="716.50" width="6.0" height="12.00" fill="#d94441" stroke="#ea4e4e" stroke-width="1"/>
<rect x="355.85" y="704.00" width="1.3" height="54.00" fill="#0ca06a"/>
<rect x="353.50" y="722.50" width="6.0" height="6.00" fill="#0ca06a" stroke="#14ac76" stroke-width="1"/>
<rect x="364.85" y="698.00" width="1.3" height="117.00" fill="#d94441"/>
<rect x="362.50" y="722.50" width="6.0" height="24.00" fill="#d94441" stroke="#ea4e4e" stroke-width="1"/>
<rect x="373.85" y="716.00" width="1.3" height="42.00" fill="#0ca06a"/>
<rect x="371.50" y="740.50" width="6.0" height="6.00" fill="#0ca06a" stroke="#14ac76" stroke-width="1"/>
<rect x="383.85" y="710.00" width="1.3" height="42.00" fill="#0ca06a"/>
<rect x="381.00" y="734" width="7.0" height="1.1" fill="#0ca06a"/>
<rect x="392.85" y="728.00" width="1.3" height="113.00" fill="#d94441"/>
<rect x="390.50" y="752.50" width="6.0" height="83.00" fill="#d94441" stroke="#ea4e4e" stroke-width="1"/>
<rect x="401.85" y="802.00" width="1.3" height="59.00" fill="#0ca06a"/>
<rect x="399.00" y="822" width="7.0" height="1.1" fill="#0ca06a"/>
<rect x="410.85" y="777.00" width="1.3" height="51.00" fill="#0ca06a"/>
<rect x="408.50" y="790.50" width="6.0" height="32.00" fill="#0ca06a" stroke="#14ac76" stroke-width="1"/>
<rect x="420.85" y="758.00" width="1.3" height="33.00" fill="#0ca06a"/>
<rect x="418.50" y="758.50" width="6.0" height="32.00" fill="#0ca06a" stroke="#14ac76" stroke-width="1"/>
<rect x="429.85" y="728.00" width="1.3" height="31.00" fill="#0ca06a"/>
<rect x="427.50" y="740.50" width="6.0" height="18.00" fill="#0ca06a" stroke="#14ac76" stroke-width="1"/>
<rect x="438.85" y="855.00" width="1.3" height="64.00" fill="#0ca06a"/>
<rect x="436.00" y="881" width="7.0" height="1.1" fill="#0ca06a"/>
<rect x="448.85" y="855.00" width="1.3" height="41.00" fill="#0ca06a"/>
<rect x="446.50" y="855.50" width="6.0" height="40.00" fill="#0ca06a" stroke="#14ac76" stroke-width="1"/>
<rect x="457.85" y="752.00" width="1.3" height="57.00" fill="#0ca06a"/>
<rect x="455.50" y="783.50" width="6.0" height="13.00" fill="#0ca06a" stroke="#14ac76" stroke-width="1"/>
<rect x="466.85" y="777.00" width="1.3" height="19.00" fill="#0ca06a"/>
<rect x="464.00" y="790" width="7.0" height="1.1" fill="#0ca06a"/>
<rect x="475.85" y="716.00" width="1.3" height="75.00" fill="#0ca06a"/>
<rect x="473.50" y="722.50" width="6.0" height="68.00" fill="#0ca06a" stroke="#14ac76" stroke-width="1"/>
<rect x="485.85" y="710.00" width="1.3" height="36.00" fill="#d94441"/>
<rect x="483.50" y="722.50" width="6.0" height="6.00" fill="#d94441" stroke="#ea4e4e" stroke-width="1"/>
<rect x="494.85" y="710.00" width="1.3" height="48.00" fill="#d94441"/>
<rect x="492.50" y="722.50" width="6.0" height="24.00" fill="#d94441" stroke="#ea4e4e" stroke-width="1"/>
<rect x="503.85" y="722.00" width="1.3" height="24.00" fill="#0ca06a"/>
<rect x="501.50" y="722.50" width="6.0" height="6.00" fill="#0ca06a" stroke="#14ac76" stroke-width="1"/>
<rect x="512.85" y="716.00" width="1.3" height="55.00" fill="#d94441"/>
<rect x="510.50" y="722.50" width="6.0" height="30.00" fill="#d94441" stroke="#ea4e4e" stroke-width="1"/>
<rect x="522.85" y="746.00" width="1.3" height="37.00" fill="#0ca06a"/>
<rect x="520.50" y="746.50" width="6.0" height="6.00" fill="#0ca06a" stroke="#14ac76" stroke-width="1"/>
<rect x="531.85" y="674.00" width="1.3" height="67.00" fill="#0ca06a"/>
<rect x="529.50" y="680.50" width="6.0" height="60.00" fill="#0ca06a" stroke="#14ac76" stroke-width="1"/>
<rect x="540.85" y="669.00" width="1.3" height="42.00" fill="#d94441"/>
<rect x="538.50" y="674.50" width="6.0" height="36.00" fill="#d94441" stroke="#ea4e4e" stroke-width="1"/>
<rect x="550.85" y="674.00" width="1.3" height="31.00" fill="#0ca06a"/>
<rect x="548.50" y="686.50" width="6.0" height="18.00" fill="#0ca06a" stroke="#14ac76" stroke-width="1"/>
<rect x="559.85" y="651.00" width="1.3" height="30.00" fill="#0ca06a"/>
<rect x="557.50" y="663.50" width="6.0" height="17.00" fill="#0ca06a" stroke="#14ac76" stroke-width="1"/>
<rect x="568.85" y="651.00" width="1.3" height="35.00" fill="#d94441"/>
<rect x="566.50" y="657.50" width="6.0" height="17.00" fill="#d94441" stroke="#ea4e4e" stroke-width="1"/>
<rect x="577.85" y="657.00" width="1.3" height="47.00" fill="#0ca06a"/>
<rect x="575.00" y="669" width="7.0" height="1.1" fill="#0ca06a"/>
<rect x="587.85" y="651.00" width="1.3" height="35.00" fill="#0ca06a"/>
<rect x="585.50" y="657.50" width="6.0" height="23.00" fill="#0ca06a" stroke="#14ac76" stroke-width="1"/>
<rect x="596.85" y="646.00" width="1.3" height="34.00" fill="#d94441"/>
<rect x="594.50" y="651.50" width="6.0" height="18.00" fill="#d94441" stroke="#ea4e4e" stroke-width="1"/>
<rect x="605.85" y="657.00" width="1.3" height="53.00" fill="#0ca06a"/>
<rect x="603.50" y="657.50" width="6.0" height="6.00" fill="#0ca06a" stroke="#14ac76" stroke-width="1"/>
<rect x="614.85" y="584.00" width="1.3" height="79.00" fill="#0ca06a"/>
<rect x="612.50" y="590.50" width="6.0" height="61.00" fill="#0ca06a" stroke="#14ac76" stroke-width="1"/>
<rect x="624.85" y="584.00" width="1.3" height="85.00" fill="#d94441"/>
<rect x="622.50" y="590.50" width="6.0" height="67.00" fill="#d94441" stroke="#ea4e4e" stroke-width="1"/>
<rect x="633.85" y="634.00" width="1.3" height="35.00" fill="#0ca06a"/>
<rect x="631.50" y="634.50" width="6.0" height="17.00" fill="#0ca06a" stroke="#14ac76" stroke-width="1"/>
<rect x="642.85" y="606.00" width="1.3" height="45.00" fill="#0ca06a"/>
<rect x="640.50" y="634.50" width="6.0" height="6.00" fill="#0ca06a" stroke="#14ac76" stroke-width="1"/>
<rect x="652.85" y="612.00" width="1.3" height="51.00" fill="#0ca06a"/>
<rect x="650.00" y="634" width="7.0" height="1.1" fill="#0ca06a"/>
<rect x="661.85" y="618.00" width="1.3" height="40.00" fill="#d94441"/>
<rect x="659.50" y="629.50" width="6.0" height="28.00" fill="#d94441" stroke="#ea4e4e" stroke-width="1"/>
<rect x="670.85" y="618.00" width="1.3" height="40.00" fill="#0ca06a"/>
<rect x="668.50" y="618.50" width="6.0" height="39.00" fill="#0ca06a" stroke="#14ac76" stroke-width="1"/>
<rect x="679.85" y="601.00" width="1.3" height="17.00" fill="#0ca06a"/>
<rect x="677.50" y="606.50" width="6.0" height="6.00" fill="#0ca06a" stroke="#14ac76" stroke-width="1"/>
<rect x="689.85" y="584.00" width="1.3" height="28.00" fill="#0ca06a"/>
<rect x="687.50" y="595.50" width="6.0" height="11.00" fill="#0ca06a" stroke="#14ac76" stroke-width="1"/>
<rect x="698.85" y="584.00" width="1.3" height="35.00" fill="#d94441"/>
<rect x="696.50" y="595.50" width="6.0" height="23.00" fill="#d94441" stroke="#ea4e4e" stroke-width="1"/>
<rect x="707.85" y="606.00" width="1.3" height="28.00" fill="#0ca06a"/>
<rect x="705.50" y="606.50" width="6.0" height="6.00" fill="#0ca06a" stroke="#14ac76" stroke-width="1"/>
<rect x="716.85" y="606.00" width="1.3" height="28.00" fill="#d94441"/>
<rect x="714.50" y="606.50" width="6.0" height="6.00" fill="#d94441" stroke="#ea4e4e" stroke-width="1"/>
<rect x="726.85" y="606.00" width="1.3" height="23.00" fill="#0ca06a"/>
<rect x="724.00" y="612" width="7.0" height="1.1" fill="#0ca06a"/>
<rect x="735.85" y="595.00" width="1.3" height="28.00" fill="#0ca06a"/>
<rect x="733.00" y="612" width="7.0" height="1.1" fill="#0ca06a"/>
<rect x="744.85" y="584.00" width="1.3" height="39.00" fill="#0ca06a"/>
<rect x="742.50" y="590.50" width="6.0" height="22.00" fill="#0ca06a" stroke="#14ac76" stroke-width="1"/>
<rect x="753.85" y="558.00" width="1.3" height="65.00" fill="#0ca06a"/>
<rect x="751.50" y="568.50" width="6.0" height="22.00" fill="#0ca06a" stroke="#14ac76" stroke-width="1"/>
<rect x="763.85" y="547.00" width="1.3" height="37.00" fill="#d94441"/>
<rect x="761.50" y="552.50" width="6.0" height="6.00" fill="#d94441" stroke="#ea4e4e" stroke-width="1"/>
<rect x="772.85" y="563.00" width="1.3" height="22.00" fill="#d94441"/>
<rect x="770.50" y="563.50" width="6.0" height="21.00" fill="#d94441" stroke="#ea4e4e" stroke-width="1"/>
<rect x="781.85" y="536.00" width="1.3" height="48.00" fill="#0ca06a"/>
<rect x="779.50" y="542.50" width="6.0" height="37.00" fill="#0ca06a" stroke="#14ac76" stroke-width="1"/>
<rect x="791.85" y="510.00" width="1.3" height="37.00" fill="#0ca06a"/>
<rect x="789.50" y="516.50" width="6.0" height="26.00" fill="#0ca06a" stroke="#14ac76" stroke-width="1"/>
<rect x="800.85" y="510.00" width="1.3" height="16.00" fill="#0ca06a"/>
<rect x="798.00" y="516" width="7.0" height="1.1" fill="#0ca06a"/>
<rect x="809.85" y="505.00" width="1.3" height="47.00" fill="#d94441"/>
<rect x="807.50" y="526.50" width="6.0" height="5.00" fill="#d94441" stroke="#ea4e4e" stroke-width="1"/>
<rect x="818.85" y="521.00" width="1.3" height="22.00" fill="#0ca06a"/>
<rect x="816.50" y="536.50" width="6.0" height="6.00" fill="#0ca06a" stroke="#14ac76" stroke-width="1"/>
<rect x="828.85" y="510.00" width="1.3" height="26.00" fill="#d94441"/>
<rect x="826.50" y="521.50" width="6.0" height="5.00" fill="#d94441" stroke="#ea4e4e" stroke-width="1"/>
<rect x="837.85" y="526.00" width="1.3" height="37.00" fill="#d94441"/>
<rect x="835.50" y="526.50" width="6.0" height="21.00" fill="#d94441" stroke="#ea4e4e" stroke-width="1"/>
<rect x="846.85" y="542.00" width="1.3" height="65.00" fill="#d94441"/>
<rect x="844.50" y="547.50" width="6.0" height="59.00" fill="#d94441" stroke="#ea4e4e" stroke-width="1"/>
<rect x="855.85" y="595.00" width="1.3" height="45.00" fill="#d94441"/>
<rect x="853.50" y="612.50" width="6.0" height="6.00" fill="#d94441" stroke="#ea4e4e" stroke-width="1"/>
<rect x="865.85" y="612.00" width="1.3" height="34.00" fill="#0ca06a"/>
<rect x="863.50" y="623.50" width="6.0" height="11.00" fill="#0ca06a" stroke="#14ac76" stroke-width="1"/>
<rect x="874.85" y="563.00" width="1.3" height="55.00" fill="#0ca06a"/>
<rect x="872.50" y="579.50" width="6.0" height="27.00" fill="#0ca06a" stroke="#14ac76" stroke-width="1"/>
<rect x="883.85" y="568.00" width="1.3" height="27.00" fill="#d94441"/>
<rect x="881.50" y="568.50" width="6.0" height="22.00" fill="#d94441" stroke="#ea4e4e" stroke-width="1"/>
<rect x="893.85" y="568.00" width="1.3" height="27.00" fill="#d94441"/>
<rect x="891.50" y="579.50" width="6.0" height="5.00" fill="#d94441" stroke="#ea4e4e" stroke-width="1"/>
<rect x="902.85" y="558.00" width="1.3" height="21.00" fill="#0ca06a"/>
<rect x="900.00" y="579" width="7.0" height="1.1" fill="#0ca06a"/>
<rect x="911.85" y="629.00" width="1.3" height="34.00" fill="#d94441"/>
<rect x="909.50" y="634.50" width="6.0" height="12.00" fill="#d94441" stroke="#ea4e4e" stroke-width="1"/>
<rect x="920.85" y="568.00" width="1.3" height="106.00" fill="#0ca06a"/>
<rect x="918.50" y="568.50" width="6.0" height="72.00" fill="#0ca06a" stroke="#14ac76" stroke-width="1"/>
<rect x="930.85" y="516.00" width="1.3" height="58.00" fill="#0ca06a"/>
<rect x="928.50" y="521.50" width="6.0" height="47.00" fill="#0ca06a" stroke="#14ac76" stroke-width="1"/>
<rect x="939.85" y="516.00" width="1.3" height="58.00" fill="#0ca06a"/>
<rect x="937.50" y="516.50" width="6.0" height="5.00" fill="#0ca06a" stroke="#14ac76" stroke-width="1"/>
<rect x="948.85" y="516.00" width="1.3" height="53.00" fill="#d94441"/>
<rect x="946.50" y="516.50" width="6.0" height="52.00" fill="#d94441" stroke="#ea4e4e" stroke-width="1"/>
<rect x="957.85" y="563.00" width="1.3" height="21.00" fill="#d94441"/>
<rect x="955.50" y="568.50" width="6.0" height="11.00" fill="#d94441" stroke="#ea4e4e" stroke-width="1"/>
<rect x="967.85" y="500.00" width="1.3" height="75.00" fill="#0ca06a"/>
<rect x="965.50" y="505.50" width="6.0" height="69.00" fill="#0ca06a" stroke="#14ac76" stroke-width="1"/>
<rect x="976.85" y="455.00" width="1.3" height="55.00" fill="#d94441"/>
<rect x="974.50" y="495.50" width="6.0" height="10.00" fill="#d94441" stroke="#ea4e4e" stroke-width="1"/>
<rect x="985.85" y="495.00" width="1.3" height="31.00" fill="#d94441"/>
<rect x="983.50" y="505.50" width="6.0" height="5.00" fill="#d94441" stroke="#ea4e4e" stroke-width="1"/>
<rect x="995.85" y="485.00" width="1.3" height="57.00" fill="#0ca06a"/>
<rect x="993.50" y="485.50" width="6.0" height="20.00" fill="#0ca06a" stroke="#14ac76" stroke-width="1"/>
<rect x="1004.85" y="485.00" width="1.3" height="31.00" fill="#d94441"/>
<rect x="1002.50" y="485.50" width="6.0" height="15.00" fill="#d94441" stroke="#ea4e4e" stroke-width="1"/>
<rect x="1013.85" y="465.00" width="1.3" height="35.00" fill="#0ca06a"/>
<rect x="1011.50" y="470.50" width="6.0" height="20.00" fill="#0ca06a" stroke="#14ac76" stroke-width="1"/>
<rect x="1022.85" y="465.00" width="1.3" height="35.00" fill="#d94441"/>
<rect x="1020.50" y="470.50" width="6.0" height="25.00" fill="#d94441" stroke="#ea4e4e" stroke-width="1"/>
<rect x="1032.85" y="470.00" width="1.3" height="30.00" fill="#d94441"/>
<rect x="1030.50" y="485.50" width="6.0" height="10.00" fill="#d94441" stroke="#ea4e4e" stroke-width="1"/>
<rect x="1041.85" y="470.00" width="1.3" height="31.00" fill="#d94441"/>
<rect x="1039.50" y="485.50" width="6.0" height="15.00" fill="#d94441" stroke="#ea4e4e" stroke-width="1"/>
<rect x="1050.85" y="500.00" width="1.3" height="26.00" fill="#d94441"/>
<rect x="1048.50" y="500.50" width="6.0" height="21.00" fill="#d94441" stroke="#ea4e4e" stroke-width="1"/>
<rect x="1059.85" y="485.00" width="1.3" height="51.00" fill="#d94441"/>
<rect x="1057.50" y="510.50" width="6.0" height="16.00" fill="#d94441" stroke="#ea4e4e" stroke-width="1"/>
<rect x="1069.85" y="495.00" width="1.3" height="36.00" fill="#d94441"/>
<rect x="1067.50" y="516.50" width="6.0" height="10.00" fill="#d94441" stroke="#ea4e4e" stroke-width="1"/>
<rect x="1078.85" y="490.00" width="1.3" height="37.00" fill="#0ca06a"/>
<rect x="1076.50" y="521.50" width="6.0" height="5.00" fill="#0ca06a" stroke="#14ac76" stroke-width="1"/>
<rect x="1087.85" y="500.00" width="1.3" height="26.00" fill="#d94441"/>
<rect x="1085.50" y="500.50" width="6.0" height="21.00" fill="#d94441" stroke="#ea4e4e" stroke-width="1"/>
<rect x="1097.85" y="505.00" width="1.3" height="26.00" fill="#d94441"/>
<rect x="1095.50" y="510.50" width="6.0" height="11.00" fill="#d94441" stroke="#ea4e4e" stroke-width="1"/>
<rect x="1106.85" y="378.00" width="1.3" height="148.00" fill="#0ca06a"/>
<rect x="1104.50" y="440.50" width="6.0" height="76.00" fill="#0ca06a" stroke="#14ac76" stroke-width="1"/>
<rect x="1115.85" y="392.00" width="1.3" height="58.00" fill="#d94441"/>
<rect x="1113.50" y="406.50" width="6.0" height="29.00" fill="#d94441" stroke="#ea4e4e" stroke-width="1"/>
<rect x="1124.85" y="475.00" width="1.3" height="46.00" fill="#d94441"/>
<rect x="1122.50" y="480.50" width="6.0" height="10.00" fill="#d94441" stroke="#ea4e4e" stroke-width="1"/>
<rect x="1134.85" y="460.00" width="1.3" height="35.00" fill="#0ca06a"/>
<rect x="1132.50" y="480.50" width="6.0" height="10.00" fill="#0ca06a" stroke="#14ac76" stroke-width="1"/>
<rect x="1143.85" y="445.00" width="1.3" height="36.00" fill="#0ca06a"/>
<rect x="1141.50" y="445.50" width="6.0" height="35.00" fill="#0ca06a" stroke="#14ac76" stroke-width="1"/>
<rect x="1152.85" y="445.00" width="1.3" height="35.00" fill="#d94441"/>
<rect x="1150.50" y="445.50" width="6.0" height="25.00" fill="#d94441" stroke="#ea4e4e" stroke-width="1"/>
<rect x="1161.85" y="465.00" width="1.3" height="51.00" fill="#d94441"/>
<rect x="1159.50" y="470.50" width="6.0" height="40.00" fill="#d94441" stroke="#ea4e4e" stroke-width="1"/>
<rect x="1171.85" y="490.00" width="1.3" height="26.00" fill="#0ca06a"/>
<rect x="1169.50" y="495.50" width="6.0" height="5.00" fill="#0ca06a" stroke="#14ac76" stroke-width="1"/>
<rect x="1180.85" y="440.00" width="1.3" height="51.00" fill="#0ca06a"/>
<rect x="1178.50" y="445.50" width="6.0" height="45.00" fill="#0ca06a" stroke="#14ac76" stroke-width="1"/>
<rect x="1189.85" y="426.00" width="1.3" height="49.00" fill="#d94441"/>
<rect x="1187.50" y="435.50" width="6.0" height="35.00" fill="#d94441" stroke="#ea4e4e" stroke-width="1"/>
<rect x="1199.85" y="445.00" width="1.3" height="21.00" fill="#0ca06a"/>
<rect x="1197.50" y="455.50" width="6.0" height="10.00" fill="#0ca06a" stroke="#14ac76" stroke-width="1"/>
<rect x="1208.85" y="430.00" width="1.3" height="45.00" fill="#d94441"/>
<rect x="1206.50" y="435.50" width="6.0" height="20.00" fill="#d94441" stroke="#ea4e4e" stroke-width="1"/>
<rect x="1217.85" y="445.00" width="1.3" height="35.00" fill="#d94441"/>
<rect x="1215.50" y="450.50" width="6.0" height="20.00" fill="#d94441" stroke="#ea4e4e" stroke-width="1"/>
<rect x="1226.85" y="426.00" width="1.3" height="64.00" fill="#0ca06a"/>
<rect x="1224.50" y="450.50" width="6.0" height="15.00" fill="#0ca06a" stroke="#14ac76" stroke-width="1"/>
<rect x="1236.85" y="355.00" width="1.3" height="95.00" fill="#0ca06a"/>
<rect x="1234.50" y="364.50" width="6.0" height="57.00" fill="#0ca06a" stroke="#14ac76" stroke-width="1"/>
<rect x="1245.85" y="355.00" width="1.3" height="57.00" fill="#d94441"/>
<rect x="1243.50" y="355.50" width="6.0" height="56.00" fill="#d94441" stroke="#ea4e4e" stroke-width="1"/>
<rect x="1254.85" y="397.00" width="1.3" height="19.00" fill="#d94441"/>
<rect x="1252.50" y="406.50" width="6.0" height="5.00" fill="#d94441" stroke="#ea4e4e" stroke-width="1"/>
<rect x="1263.85" y="387.00" width="1.3" height="48.00" fill="#d94441"/>
<rect x="1261.50" y="406.50" width="6.0" height="24.00" fill="#d94441" stroke="#ea4e4e" stroke-width="1"/>
<rect x="1273.85" y="416.00" width="1.3" height="34.00" fill="#d94441"/>
<rect x="1271.50" y="426.50" width="6.0" height="19.00" fill="#d94441" stroke="#ea4e4e" stroke-width="1"/>
<rect x="1282.85" y="421.00" width="1.3" height="49.00" fill="#d94441"/>
<rect x="1280.50" y="435.50" width="6.0" height="25.00" fill="#d94441" stroke="#ea4e4e" stroke-width="1"/>
<rect x="1291.85" y="430.00" width="1.3" height="30.00" fill="#d94441"/>
<rect x="1289.50" y="430.50" width="6.0" height="15.00" fill="#d94441" stroke="#ea4e4e" stroke-width="1"/>
<rect x="1301.85" y="445.00" width="1.3" height="60.00" fill="#d94441"/>
<rect x="1299.50" y="445.50" width="6.0" height="35.00" fill="#d94441" stroke="#ea4e4e" stroke-width="1"/>
<rect x="1310.85" y="490.00" width="1.3" height="62.00" fill="#d94441"/>
<rect x="1308.50" y="510.50" width="6.0" height="6.00" fill="#d94441" stroke="#ea4e4e" stroke-width="1"/>
<rect x="1319.85" y="460.00" width="1.3" height="46.00" fill="#0ca06a"/>
<rect x="1317.50" y="465.50" width="6.0" height="40.00" fill="#0ca06a" stroke="#14ac76" stroke-width="1"/>
<rect x="1328.85" y="435.00" width="1.3" height="35.00" fill="#d94441"/>
<rect x="1326.50" y="445.50" width="6.0" height="10.00" fill="#d94441" stroke="#ea4e4e" stroke-width="1"/>
<rect x="1338.85" y="455.00" width="1.3" height="31.00" fill="#d94441"/>
<rect x="1336.50" y="455.50" width="6.0" height="30.00" fill="#d94441" stroke="#ea4e4e" stroke-width="1"/>
<rect x="1347.85" y="475.00" width="1.3" height="46.00" fill="#d94441"/>
<rect x="1345.50" y="485.50" width="6.0" height="31.00" fill="#d94441" stroke="#ea4e4e" stroke-width="1"/>
<rect x="1356.85" y="465.00" width="1.3" height="71.00" fill="#0ca06a"/>
<rect x="1354.50" y="470.50" width="6.0" height="46.00" fill="#0ca06a" stroke="#14ac76" stroke-width="1"/>
<rect x="1365.85" y="450.00" width="1.3" height="41.00" fill="#d94441"/>
<rect x="1363.50" y="470.50" width="6.0" height="20.00" fill="#d94441" stroke="#ea4e4e" stroke-width="1"/>
<rect x="1375.85" y="465.00" width="1.3" height="25.00" fill="#d94441"/>
<rect x="1373.50" y="480.50" width="6.0" height="5.00" fill="#d94441" stroke="#ea4e4e" stroke-width="1"/>
<rect x="1384.85" y="490.00" width="1.3" height="36.00" fill="#d94441"/>
<rect x="1382.50" y="495.50" width="6.0" height="15.00" fill="#d94441" stroke="#ea4e4e" stroke-width="1"/>
<rect x="1393.85" y="510.00" width="1.3" height="11.00" fill="#d94441"/>
<rect x="1391.50" y="510.50" width="6.0" height="6.00" fill="#d94441" stroke="#ea4e4e" stroke-width="1"/>
<rect x="1403.85" y="475.00" width="1.3" height="41.00" fill="#0ca06a"/>
<rect x="1401.50" y="485.50" width="6.0" height="15.00" fill="#0ca06a" stroke="#14ac76" stroke-width="1"/>
<rect x="1412.85" y="475.00" width="1.3" height="25.00" fill="#0ca06a"/>
<rect x="1410.00" y="485" width="7.0" height="1.1" fill="#0ca06a"/>
<rect x="1421.85" y="470.00" width="1.3" height="47.00" fill="#d94441"/>
<rect x="1419.50" y="480.50" width="6.0" height="36.00" fill="#d94441" stroke="#ea4e4e" stroke-width="1"/>
<rect x="1430.85" y="495.00" width="1.3" height="15.00" fill="#0ca06a"/>
<rect x="1428.50" y="495.50" width="6.0" height="10.00" fill="#0ca06a" stroke="#14ac76" stroke-width="1"/>
<rect x="1440.85" y="480.00" width="1.3" height="25.00" fill="#0ca06a"/>
<rect x="1438.50" y="490.50" width="6.0" height="5.00" fill="#0ca06a" stroke="#14ac76" stroke-width="1"/>
<rect x="1449.85" y="485.00" width="1.3" height="25.00" fill="#0ca06a"/>
<rect x="1447.00" y="490" width="7.0" height="1.1" fill="#0ca06a"/>
<rect x="1458.85" y="485.00" width="1.3" height="32.00" fill="#d94441"/>
<rect x="1456.50" y="485.50" width="6.0" height="31.00" fill="#d94441" stroke="#ea4e4e" stroke-width="1"/>
<rect x="1467.85" y="460.00" width="1.3" height="51.00" fill="#0ca06a"/>
<rect x="1465.50" y="480.50" width="6.0" height="30.00" fill="#0ca06a" stroke="#14ac76" stroke-width="1"/>
<rect x="1477.85" y="445.00" width="1.3" height="50.00" fill="#d94441"/>
<rect x="1475.50" y="465.50" width="6.0" height="5.00" fill="#d94441" stroke="#ea4e4e" stroke-width="1"/>
<rect x="1486.85" y="465.00" width="1.3" height="40.00" fill="#d94441"/>
<rect x="1484.50" y="470.50" width="6.0" height="25.00" fill="#d94441" stroke="#ea4e4e" stroke-width="1"/>
<rect x="1495.85" y="445.00" width="1.3" height="51.00" fill="#0ca06a"/>
<rect x="1493.50" y="470.50" width="6.0" height="25.00" fill="#0ca06a" stroke="#14ac76" stroke-width="1"/>
<rect x="1505.85" y="455.00" width="1.3" height="50.00" fill="#d94441"/>
<rect x="1503.50" y="455.50" width="6.0" height="25.00" fill="#d94441" stroke="#ea4e4e" stroke-width="1"/>
<rect x="1514.85" y="460.00" width="1.3" height="56.00" fill="#d94441"/>
<rect x="1512.50" y="475.50" width="6.0" height="20.00" fill="#d94441" stroke="#ea4e4e" stroke-width="1"/>
<rect x="1523.85" y="490.00" width="1.3" height="26.00" fill="#d94441"/>
<rect x="1521.50" y="495.50" width="6.0" height="15.00" fill="#d94441" stroke="#ea4e4e" stroke-width="1"/>
<rect x="1532.85" y="495.00" width="1.3" height="36.00" fill="#d94441"/>
<rect x="1530.50" y="510.50" width="6.0" height="11.00" fill="#d94441" stroke="#ea4e4e" stroke-width="1"/>
<rect x="1542.85" y="526.00" width="1.3" height="49.00" fill="#d94441"/>
<rect x="1540.50" y="526.50" width="6.0" height="48.00" fill="#d94441" stroke="#ea4e4e" stroke-width="1"/>
<rect x="1551.85" y="558.00" width="1.3" height="36.00" fill="#d94441"/>
<rect x="1549.50" y="574.50" width="6.0" height="5.00" fill="#d94441" stroke="#ea4e4e" stroke-width="1"/>
<rect x="1560.85" y="510.00" width="1.3" height="74.00" fill="#0ca06a"/>
<rect x="1558.50" y="526.50" width="6.0" height="53.00" fill="#0ca06a" stroke="#14ac76" stroke-width="1"/>
<rect x="1569.85" y="510.00" width="1.3" height="37.00" fill="#d94441"/>
<rect x="1567.50" y="526.50" width="6.0" height="5.00" fill="#d94441" stroke="#ea4e4e" stroke-width="1"/>
<rect x="1579.85" y="465.00" width="1.3" height="93.00" fill="#0ca06a"/>
<rect x="1577.50" y="475.50" width="6.0" height="67.00" fill="#0ca06a" stroke="#14ac76" stroke-width="1"/>
<rect x="1588.85" y="465.00" width="1.3" height="56.00" fill="#d94441"/>
<rect x="1586.50" y="470.50" width="6.0" height="35.00" fill="#d94441" stroke="#ea4e4e" stroke-width="1"/>
<rect x="1597.85" y="490.00" width="1.3" height="26.00" fill="#0ca06a"/>
<rect x="1595.00" y="505" width="7.0" height="1.1" fill="#0ca06a"/>
<rect x="1606.85" y="440.00" width="1.3" height="66.00" fill="#0ca06a"/>
<rect x="1604.50" y="440.50" width="6.0" height="65.00" fill="#0ca06a" stroke="#14ac76" stroke-width="1"/>
<line x1="15" y1="440.5" x2="1815" y2="440.5" stroke="#0ca06a" stroke-width="1" stroke-dasharray="1 2"/>
<text x="1484.6" y="396.9" font-size="34.6" font-style="italic" fill="#878a98" textLength="69.6" lengthAdjust="spacingAndGlyphs">LSIP</text>
<circle cx="914.5" cy="899.5" r="17.2" fill="#15171d"/>
<circle cx="914.5" cy="899.5" r="14.4" fill="#171a21" stroke="#0000ff" stroke-width="2.1"/>
<text x="908.7" y="905.8" font-size="16.4" font-weight="bold" fill="#0000ff" textLength="11.9" lengthAdjust="spacingAndGlyphs">D</text>
</g>
<text x="27.4" y="43.9" font-size="16.2" fill="#7c7f8b" textLength="20.3" lengthAdjust="spacingAndGlyphs">PP</text>
<text x="53.6" y="43.9" font-size="16.2" fill="#7c7f8b" textLength="57.8" lengthAdjust="spacingAndGlyphs">London</text>
<text x="117.5" y="43.9" font-size="16.2" fill="#7c7f8b" textLength="64.0" lengthAdjust="spacingAndGlyphs">Sumatra</text>
<text x="187.1" y="43.9" font-size="16.2" fill="#7c7f8b" textLength="75.7" lengthAdjust="spacingAndGlyphs">Indonesia</text>
<text x="268.3" y="43.9" font-size="16.2" fill="#7c7f8b" textLength="37.5" lengthAdjust="spacingAndGlyphs">Tbk.,</text>
<text x="311.1" y="43.9" font-size="16.2" fill="#7c7f8b" textLength="21.3" lengthAdjust="spacingAndGlyphs">1D,</text>
<text x="338.8" y="43.9" font-size="16.2" fill="#7c7f8b" textLength="26.4" lengthAdjust="spacingAndGlyphs">IDX</text>
<text x="376.2" y="43.9" font-size="16.2" fill="#7c7f8b" textLength="13.3" lengthAdjust="spacingAndGlyphs">O</text>
<text x="390.5" y="43.9" font-size="16.2" fill="#16a06c" textLength="35.4" lengthAdjust="spacingAndGlyphs">1320</text>
<text x="437.2" y="43.9" font-size="16.2" fill="#7c7f8b" textLength="12.3" lengthAdjust="spacingAndGlyphs">H</text>
<text x="450.5" y="43.9" font-size="16.2" fill="#16a06c" textLength="35.0" lengthAdjust="spacingAndGlyphs">1385</text>
<text x="496.6" y="43.9" font-size="16.2" fill="#7c7f8b" textLength="8.3" lengthAdjust="spacingAndGlyphs">L</text>
<text x="505.8" y="43.9" font-size="16.2" fill="#16a06c" textLength="36.0" lengthAdjust="spacingAndGlyphs">1320</text>
<text x="552.5" y="43.9" font-size="16.2" fill="#7c7f8b" textLength="12.0" lengthAdjust="spacingAndGlyphs">C</text>
<text x="564.9" y="43.9" font-size="16.2" fill="#16a06c" textLength="35.6" lengthAdjust="spacingAndGlyphs">1385</text>
<text x="611.1" y="43.9" font-size="16.2" fill="#16a06c" textLength="28.6" lengthAdjust="spacingAndGlyphs">+65</text>
<text x="645.8" y="43.9" font-size="16.2" fill="#16a06c" textLength="65.5" lengthAdjust="spacingAndGlyphs">(+4.92%)</text>
<text x="1829" y="54.0" font-size="16.8" fill="#7c7f8b" textLength="40.8" lengthAdjust="spacingAndGlyphs">1850</text>
<text x="1829" y="129.1" font-size="16.8" fill="#7c7f8b" textLength="40.8" lengthAdjust="spacingAndGlyphs">1750</text>
<text x="1829" y="193.1" font-size="16.8" fill="#7c7f8b" textLength="40.8" lengthAdjust="spacingAndGlyphs">1670</text>
<text x="1829" y="259.1" font-size="16.8" fill="#7c7f8b" textLength="40.8" lengthAdjust="spacingAndGlyphs">1590</text>
<text x="1829" y="328.9" font-size="16.8" fill="#7c7f8b" textLength="40.8" lengthAdjust="spacingAndGlyphs">1510</text>
<text x="1829" y="403.1" font-size="16.8" fill="#7c7f8b" textLength="40.8" lengthAdjust="spacingAndGlyphs">1430</text>
<text x="1829" y="501.4" font-size="16.8" fill="#7c7f8b" textLength="40.8" lengthAdjust="spacingAndGlyphs">1330</text>
<text x="1829" y="564.0" font-size="16.8" fill="#7c7f8b" textLength="40.8" lengthAdjust="spacingAndGlyphs">1270</text>
<text x="1829" y="629.0" font-size="16.8" fill="#7c7f8b" textLength="40.8" lengthAdjust="spacingAndGlyphs">1210</text>
<text x="1829" y="675.0" font-size="16.8" fill="#7c7f8b" textLength="40.8" lengthAdjust="spacingAndGlyphs">1170</text>
<text x="1829" y="722.0" font-size="16.8" fill="#7c7f8b" textLength="40.8" lengthAdjust="spacingAndGlyphs">1130</text>
<text x="1829" y="771.0" font-size="16.8" fill="#7c7f8b" textLength="40.8" lengthAdjust="spacingAndGlyphs">1090</text>
<text x="1829" y="821.0" font-size="16.8" fill="#7c7f8b" textLength="40.8" lengthAdjust="spacingAndGlyphs">1050</text>
<text x="1829" y="869.0" font-size="16.8" fill="#7c7f8b" textLength="40.8" lengthAdjust="spacingAndGlyphs">1015</text>
<text x="1827.8" y="918.3" font-size="16.8" fill="#7c7f8b" textLength="31.2" lengthAdjust="spacingAndGlyphs">980</text>
<text x="1829" y="955.0" font-size="16.8" fill="#7c7f8b" textLength="44.3" lengthAdjust="spacingAndGlyphs">100M</text>
<text x="1827.8" y="1040.2" font-size="16.8" fill="#7c7f8b" textLength="31.2" lengthAdjust="spacingAndGlyphs">25B</text>
<path d="M1815 321 H1875.8 Q1878 321 1878 323.2 V345.8 Q1878 348 1875.8 348 H1815 Z" fill="#ffeb3b"/>
<text x="1829" y="341.1" font-size="16.8" fill="#131313" textLength="40.8" lengthAdjust="spacingAndGlyphs">1500</text>
<path d="M1815 427 H1875.8 Q1878 427 1878 429.2 V451.8 Q1878 454 1875.8 454 H1815 Z" fill="#0ca06a"/>
<text x="1829" y="447.1" font-size="16.8" fill="#ffffff" textLength="40.8" lengthAdjust="spacingAndGlyphs">1385</text>
<path d="M1815 492.8 H1875.8 Q1878 492.8 1878 495.0 V523.8 Q1878 526 1875.8 526 H1815 Z" fill="#ffeb3b"/>
<text x="1829" y="519.2" font-size="16.8" fill="#131313" textLength="40.8" lengthAdjust="spacingAndGlyphs">1315</text>
<path d="M1815 584.2 H1875.8 Q1878 584.2 1878 586.4000000000001 V609.0 Q1878 611.2 1875.8 611.2 H1815 Z" fill="#ffeb3b"/>
<text x="1829" y="604.2" font-size="16.8" fill="#131313" textLength="40.8" lengthAdjust="spacingAndGlyphs">1235</text>
<path d="M1815 979 H1905.7 Q1907.9 979 1907.9 981.2 V1003.5 Q1907.9 1005.7 1905.7 1005.7 H1815 Z" fill="#52b987"/>
<text x="1829.5" y="998.9" font-size="16.8" fill="#131313" textLength="68.9" lengthAdjust="spacingAndGlyphs">18.252M</text>
<g clip-path="url(#volclip)">
<path d="M1815 1004.2 H1895.8999999999999 Q1898.1 1004.2 1898.1 1006.4000000000001 V1028.8 Q1898.1 1031 1895.8999999999999 1031 H1815 Z" fill="#0a96ff"/>
</g>
<text x="1827.4" y="1023.8" font-size="16.8" fill="#ffffff" textLength="60.6" lengthAdjust="spacingAndGlyphs" clip-path="url(#volclip)">9.793M</text>
<path d="M1815 1074 H1925.75 Q1927.95 1074 1927.95 1076.2 V1098.6 Q1927.95 1100.8 1925.75 1100.8 H1815 Z" fill="#b70f0f"/>
<text x="1826.9" y="1094.0" font-size="16.8" fill="#ffffff" stroke="#ffffff" stroke-width="0.55" textLength="92.0" lengthAdjust="spacingAndGlyphs">−246.665M</text>
<text x="77.7" y="1142" font-size="17" font-weight="bold" fill="#7c7f8b" text-anchor="middle">Feb</text>
<text x="263" y="1142" font-size="17" font-weight="bold" fill="#7c7f8b" text-anchor="middle">Mar</text>
<text x="439.5" y="1142" font-size="17" font-weight="bold" fill="#7c7f8b" text-anchor="middle">Apr</text>
<text x="588" y="1142" font-size="17" font-weight="bold" fill="#7c7f8b" text-anchor="middle">May</text>
<text x="745.3" y="1142" font-size="17" font-weight="bold" fill="#7c7f8b" text-anchor="middle">Jun</text>
<text x="912.2" y="1142" font-size="17" font-weight="bold" fill="#7c7f8b" text-anchor="middle">Jul</text>
<text x="1125.4" y="1142" font-size="17" font-weight="bold" fill="#7c7f8b" text-anchor="middle">Aug</text>
<text x="1310.8" y="1142" font-size="17" font-weight="bold" fill="#7c7f8b" text-anchor="middle">Sep</text>
<text x="1505.5" y="1142" font-size="17" font-weight="bold" fill="#7c7f8b" text-anchor="middle">Oct</text>
<text x="1718.8" y="1142" font-size="17" font-weight="bold" fill="#7c7f8b" text-anchor="middle">Nov</text>
<path d="M15.1 1174 H27.1 V1189.1 H20.5 V1180.2 H15.1 Z" fill="#d1d4dc"/>
<circle cx="31.2" cy="1177.2" r="2.95" fill="#d1d4dc"/>
<path d="M38.1 1174 H44.4 L39.4 1189.1 H32 Z" fill="#d1d4dc"/>
<text x="50" y="1190.1" font-size="19" fill="#d1d4dc" textLength="105" lengthAdjust="spacingAndGlyphs">TradingView</text>
</svg></body></html>
